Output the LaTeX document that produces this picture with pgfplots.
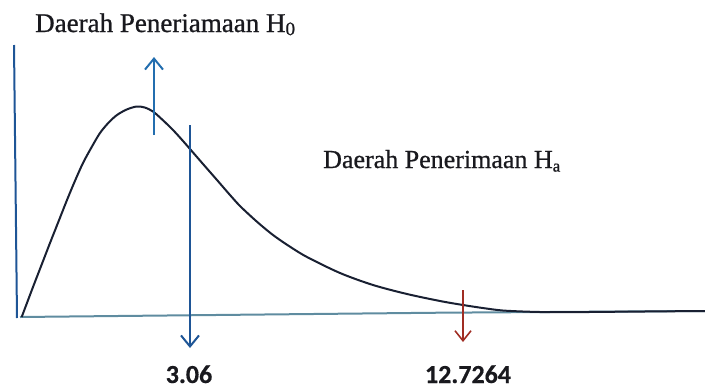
\documentclass[border=0pt]{standalone}
\usepackage{fontspec}
\setmainfont{Liberation Serif}
\newfontfamily\headfont[FakeBold=0.8]{Liberation Serif}
\newfontfamily\lblfont[FakeBold=0.5]{Carlito}
\usepackage{pgfplots}
\pgfplotsset{compat=1.18}
\usetikzlibrary{arrows.meta}
\definecolor{curvec}{RGB}{25,32,50}
\definecolor{bluea}{RGB}{35,110,175}
\definecolor{bluel}{RGB}{30,85,150}
\definecolor{basec}{RGB}{95,140,160}
\definecolor{redc}{RGB}{160,45,35}
\definecolor{txtc}{RGB}{25,25,30}
\begin{document}
\begin{tikzpicture}
\begin{axis}[name=ax,
  width=705pt,height=389pt,scale only axis,
  xmin=0,xmax=705,ymin=0,ymax=389,y dir=reverse,
  hide axis,clip=false]
% left vertical line
\addplot[bluel,line width=2pt] coordinates {(14,45) (17,318)};
% baseline
\addplot[basec,line width=2pt] coordinates {(20,317) (440,312.7) (705,311)};
% curve
\addplot[curvec,line width=2pt,smooth] coordinates {
(21.7,317) (26.7,303.7) (33,287) (41.7,264.5) (50,243) (58.7,221) (67,200)
(74.7,181.5) (83,163) (91.7,147) (100,133) (108.7,122.5) (117,115)
(126.7,109.5) (136.7,106.5) (144.7,107.5) (153,111.5) (162.7,120) (173,130)
(181.7,139.5) (190,149) (201.7,162.5) (217,180) (228.7,193.5) (240,206)
(256.7,221.5) (273,235) (289.7,246.5) (307,257) (340,273) (373,285)
(407,294) (440,301) (463,305) (482.7,308) (502.7,310.5) (531.7,311.8)
(562,312.2) (620,311.7) (705,311)};
% arrows
\addplot[bluea,line width=2pt,-{Straight Barb[length=11pt,width=18pt]}] coordinates {(154,135) (154,57)};
\addplot[bluel,line width=2pt,-{Straight Barb[length=11pt,width=18pt]}] coordinates {(190,125) (190,348)};
\addplot[redc,line width=1.6pt,-{Straight Barb[length=10pt,width=16pt]}] coordinates {(463,290) (463,342)};
% texts
\node[anchor=base west,inner sep=0,text=txtc,font=\headfont\fontsize{27}{30}\selectfont] at (axis cs:35,32) {Daerah Peneriamaan H\raisebox{-0.25ex}{\fontsize{19}{19}\selectfont 0}};
\node[anchor=base west,inner sep=0,text=txtc,font=\headfont\fontsize{26}{28}\selectfont] at (axis cs:323,168) {Daerah Penerimaan H\raisebox{-0.3ex}{\fontsize{17}{17}\selectfont a}};
\node[anchor=base,inner sep=0,text=txtc,font=\lblfont\bfseries\fontsize{26}{28}\selectfont] at (axis cs:189,383) {3.06};
\node[anchor=base,inner sep=0,text=txtc,font=\lblfont\bfseries\fontsize{26}{28}\selectfont] at (axis cs:468,383) {12.7264};
\end{axis}
\pgfresetboundingbox
\path (ax.south west) rectangle (ax.north east);
\end{tikzpicture}
\end{document}
